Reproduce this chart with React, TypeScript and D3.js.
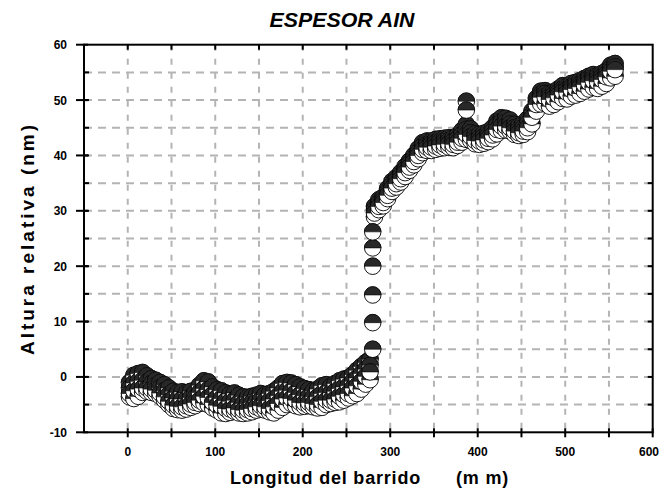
import React from "react";
import * as d3 from "d3";

// scan positions (mm) and four repeated scans of the relative height (nm)
const scanX = [
  2, 7, 12, 17, 22, 27, 32, 37, 42, 47, 52, 57, 62, 67, 72, 77, 82, 87, 92, 97,
  102, 107, 112, 117, 122, 127, 132, 137, 142, 147, 152, 157, 162, 167, 172, 177, 182, 187, 192, 197,
  202, 207, 212, 217, 222, 227, 232, 237, 242, 247, 252, 257, 262, 267, 272, 277, 282, 287, 292, 297,
  302, 307, 312, 317, 322, 327, 332, 337, 342, 347, 352, 357, 362, 367, 372, 377, 382, 387, 392, 397,
  402, 407, 412, 417, 422, 427, 432, 437, 442, 447, 452, 457, 462, 467, 472, 477, 482, 487, 492, 497,
  502, 507, 512, 517, 522, 527, 532, 537, 542, 547, 552, 557,
];
// highest reading at each position
const scanA = [
  -1.0, 0.3, 0.6, 0.8, 0.2, -0.3, -0.6, -1.0, -1.4, -2.0,
  -2.6, -2.8, -2.7, -2.9, -2.6, -2.8, -1.5, -0.7, -0.9, -1.8,
  -2.3, -2.5, -2.9, -3.1, -2.9, -3.3, -3.6, -3.7, -3.5, -3.3,
  -3.0, -3.2, -3.0, -2.6, -2.0, -1.2, -1.0, -1.1, -1.4, -1.8,
  -2.1, -2.3, -2.5, -2.2, -1.6, -1.4, -1.7, -1.2, -0.7, -0.4,
  -0.2, 0.4, 1.2, 1.9, 2.6, 3.2,
  30.8, 32.0, 32.5, 34.0, 35.3, 36.0, 36.9, 38.0, 39.0, 40.0,
  41.2, 42.3, 42.6, 42.6, 42.9, 43.0, 43.1, 43.2, 43.2, 43.6,
  44.5, 45.6, 44.8, 43.9, 43.8, 44.0, 44.3, 45.0, 46.2, 46.8,
  46.7, 46.4, 45.6, 45.3, 45.8, 46.6, 48.0, 50.3, 51.6, 51.7,
  51.2, 51.5, 52.0, 52.6, 52.5, 53.0, 53.2, 53.5, 53.9, 54.3,
  54.6, 54.4, 54.8, 55.3, 56.3, 56.6,
];
const scanB = [
  -2.0, -1.1, -0.8, -0.6, -0.9, -1.2, -1.5, -1.9, -2.5, -3.2,
  -3.8, -4.0, -4.0, -4.0, -3.7, -3.7, -2.8, -2.1, -2.3, -3.2,
  -3.7, -3.9, -4.3, -4.4, -4.2, -4.6, -4.8, -4.8, -4.6, -4.3,
  -4.1, -4.3, -4.3, -4.0, -3.4, -2.6, -2.4, -2.5, -2.8, -3.2,
  -3.4, -3.5, -3.6, -3.6, -3.0, -2.8, -2.9, -2.6, -2.1, -1.8,
  -1.6, -0.8, -0.2, 0.6, 1.4, 2.1,
  30.2, 31.4, 32.0, 33.5, 34.8, 35.5, 36.4, 37.4, 38.5, 39.5,
  40.6, 41.7, 42.0, 42.1, 42.3, 42.5, 42.6, 42.7, 42.6, 43.0,
  43.8, 44.7, 44.1, 43.3, 43.2, 43.4, 43.7, 44.4, 45.5, 46.1,
  46.0, 45.7, 45.0, 44.7, 45.1, 45.8, 47.4, 49.7, 51.0, 51.2,
  50.6, 51.0, 51.4, 52.0, 51.9, 52.4, 52.7, 52.9, 53.3, 53.8,
  54.0, 53.9, 54.2, 54.7, 55.7, 56.0,
];
const scanC = [
  -3.0, -2.5, -2.2, -2.0, -2.0, -2.2, -2.4, -2.9, -3.6, -4.4,
  -5.1, -5.3, -5.4, -5.2, -4.9, -4.6, -4.2, -3.5, -3.7, -4.6,
  -5.1, -5.3, -5.7, -5.8, -5.6, -5.9, -6.0, -5.9, -5.7, -5.4,
  -5.2, -5.4, -5.7, -5.4, -4.8, -4.0, -3.8, -3.9, -4.2, -4.6,
  -4.7, -4.6, -4.8, -5.0, -4.4, -4.2, -4.2, -4.0, -3.5, -3.2,
  -3.0, -2.0, -1.6, -0.8, 0.1, 0.9,
  29.6, 30.8, 31.5, 32.8, 34.1, 34.9, 35.8, 36.9, 37.9, 38.9,
  40.0, 41.1, 41.5, 41.5, 41.7, 41.9, 42.0, 42.1, 42.0, 42.4,
  43.1, 43.8, 43.4, 42.7, 42.6, 42.8, 43.1, 43.7, 44.7, 45.3,
  45.3, 45.0, 44.4, 44.1, 44.4, 45.0, 46.9, 49.2, 50.5, 50.6,
  50.1, 50.4, 50.9, 51.5, 51.4, 51.9, 52.1, 52.4, 52.8, 53.2,
  53.5, 53.3, 53.7, 54.2, 55.2, 55.5,
];
// lowest reading at each position
const scanD = [
  -3.6, -3.9, -3.5, -2.8, -2.6, -2.8, -3.0, -3.5, -4.2, -5.0,
  -5.7, -5.9, -6.0, -5.8, -5.5, -5.2, -4.8, -4.7, -5.0, -5.6,
  -6.0, -6.5, -6.6, -6.4, -6.2, -6.5, -6.6, -6.5, -6.3, -6.0,
  -5.8, -6.0, -6.3, -6.5, -6.0, -5.5, -5.0, -4.8, -5.2, -5.4,
  -5.3, -5.2, -5.4, -5.6, -5.5, -5.0, -4.8, -4.6, -4.5, -4.2,
  -3.8, -3.4, -3.0, -2.2, -1.3, -0.5,
  28.9, 30.2, 30.9, 32.2, 33.5, 34.3, 35.2, 36.2, 37.3, 38.3,
  39.4, 40.5, 40.9, 40.9, 41.1, 41.3, 41.4, 41.5, 41.4, 41.8,
  42.4, 42.9, 42.7, 42.1, 42.0, 42.2, 42.5, 43.0, 43.9, 44.5,
  44.6, 44.4, 43.8, 43.6, 43.8, 44.3, 45.7, 48.0, 49.3, 49.4,
  48.9, 49.2, 49.7, 50.3, 50.2, 50.7, 50.9, 51.2, 51.6, 52.0,
  52.3, 52.1, 52.5, 53.0, 54.0, 54.3,
];
// isolated points on the step edge and the spike
const stepX = [280, 280, 280, 280, 280, 280];
const stepY = [5.0, 9.8, 14.8, 20.0, 23.3, 26.2];
const spikeX = [387, 387];
const spikeY = [49.8, 48.2];

const xTickLabels = [0, 100, 200, 300, 400, 500, 600];
const xMinorTicks = [0, 50, 100, 150, 200, 250, 300, 350, 400, 450, 500, 550, 600];
const yTickLabels = [-10, 0, 10, 20, 30, 40, 50, 60];
const yMinorTicks = [-5, 0, 5, 10, 15, 20, 25, 30, 35, 40, 45, 50, 55];

const W = 660;
const H = 490;
const left = 84;
const right = 652.7;
const top = 44.7;
const bottom = 432.3;
const R = 8.3;
const dark = "#282828";
const gridColor = "#b4b4b4";
const font = "'Liberation Sans', Arial, sans-serif";

const x = d3.scaleLinear().domain([-50, 600]).range([left, right]);
const y = d3.scaleLinear().domain([-10, 60]).range([bottom, top]);

const topHalf = d3.arc()({
  innerRadius: 0,
  outerRadius: R,
  startAngle: -Math.PI / 2,
  endAngle: Math.PI / 2,
}) as string;

function Marker({ cx, cy }: { cx: number; cy: number }) {
  return (
    <g transform={`translate(${cx},${cy})`}>
      <circle r={R} fill="#fff" stroke="#000" strokeWidth={0.9} />
      <path d={topHalf} fill={dark} stroke="#000" strokeWidth={0.6} />
    </g>
  );
}

export default function App() {
  // drawing order at each position, as the overlaps show it
  const points: { px: number; py: number }[] = [];
  scanX.forEach((sx, i) => {
    [scanA, scanB, scanD, scanC].forEach((s) => points.push({ px: x(sx), py: y(s[i]) }));
  });

  return (
    <svg
      width={W}
      height={H}
      style={{ position: "absolute", left: 0, top: 0, background: "#fff" }}
    >
      <text
        x={342}
        y={27}
        textAnchor="middle"
        fontFamily={font}
        fontWeight="bold"
        fontStyle="italic"
        fontSize={21}
        textLength={145}
        lengthAdjust="spacingAndGlyphs"
      >
        ESPESOR AIN
      </text>

      {/* grid */}
      {yMinorTicks.map((v) => (
        <line
          key={"gy" + v}
          x1={left}
          x2={right}
          y1={y(v)}
          y2={y(v)}
          stroke={gridColor}
          strokeWidth={2}
          strokeDasharray="8,6"
        />
      ))}
      {xMinorTicks
        .filter((v) => v < 600)
        .map((v) => (
          <line
            key={"gx" + v}
            x1={x(v)}
            x2={x(v)}
            y1={top}
            y2={bottom}
            stroke={gridColor}
            strokeWidth={2}
            strokeDasharray="6,8"
          />
        ))}

      {/* data */}
      {points.map((p, i) => (
        <Marker key={"p" + i} cx={p.px} cy={p.py} />
      ))}
      {stepY.map((v, i) => (
        <Marker key={"st" + i} cx={x(stepX[i])} cy={y(v)} />
      ))}
      {spikeY.map((v, i) => (
        <Marker key={"sp" + i} cx={x(spikeX[i])} cy={y(v)} />
      ))}

      {/* frame */}
      <rect
        x={left}
        y={top}
        width={right - left}
        height={bottom - top}
        fill="none"
        stroke="#000"
        strokeWidth={2}
      />

      {/* bottom / top ticks */}
      {xMinorTicks.map((v) => (
        <g key={"tx" + v} stroke="#000" strokeWidth={2}>
          <line x1={x(v)} x2={x(v)} y1={bottom - 4} y2={bottom + 5} />
          {v < 600 && <line x1={x(v)} x2={x(v)} y1={top} y2={top + 5} />}
        </g>
      ))}
      {xTickLabels.map((v) => (
        <text
          key={"lx" + v}
          x={v === 600 ? 659 : x(v)}
          y={456}
          textAnchor={v === 600 ? "end" : "middle"}
          fontFamily={font}
          fontWeight="bold"
          fontSize={12}
        >
          {v}
        </text>
      ))}

      {/* left / right ticks */}
      {yMinorTicks.map((v) => (
        <g key={"ty" + v} stroke="#000" strokeWidth={2}>
          <line x1={left} x2={left + 5} y1={y(v)} y2={y(v)} />
          <line x1={right - 5} x2={right} y1={y(v)} y2={y(v)} />
        </g>
      ))}
      {yTickLabels.map((v) => (
        <g key={"ly" + v}>
          <line x1={left - 8} x2={left + 4} y1={y(v)} y2={y(v)} stroke="#000" strokeWidth={2} />
          <text
            x={67}
            y={y(v) + 4.5}
            textAnchor="end"
            fontFamily={font}
            fontWeight="bold"
            fontSize={12}
          >
            {v}
          </text>
        </g>
      ))}

      {/* axis titles */}
      <text
        x={230}
        y={484}
        fontFamily={font}
        fontWeight="bold"
        fontSize={18}
        letterSpacing={0.8}
      >
        Longitud del barrido
      </text>
      <text
        x={456}
        y={484}
        fontFamily={font}
        fontWeight="bold"
        fontSize={18}
        letterSpacing={0.8}
      >
        (m m)
      </text>
      <text
        transform={`translate(34,${(top + bottom) / 2}) rotate(-90)`}
        textAnchor="middle"
        fontFamily={font}
        fontWeight="bold"
        fontSize={19}
        letterSpacing={3}
      >
        Altura relativa (nm)
      </text>
    </svg>
  );
}
